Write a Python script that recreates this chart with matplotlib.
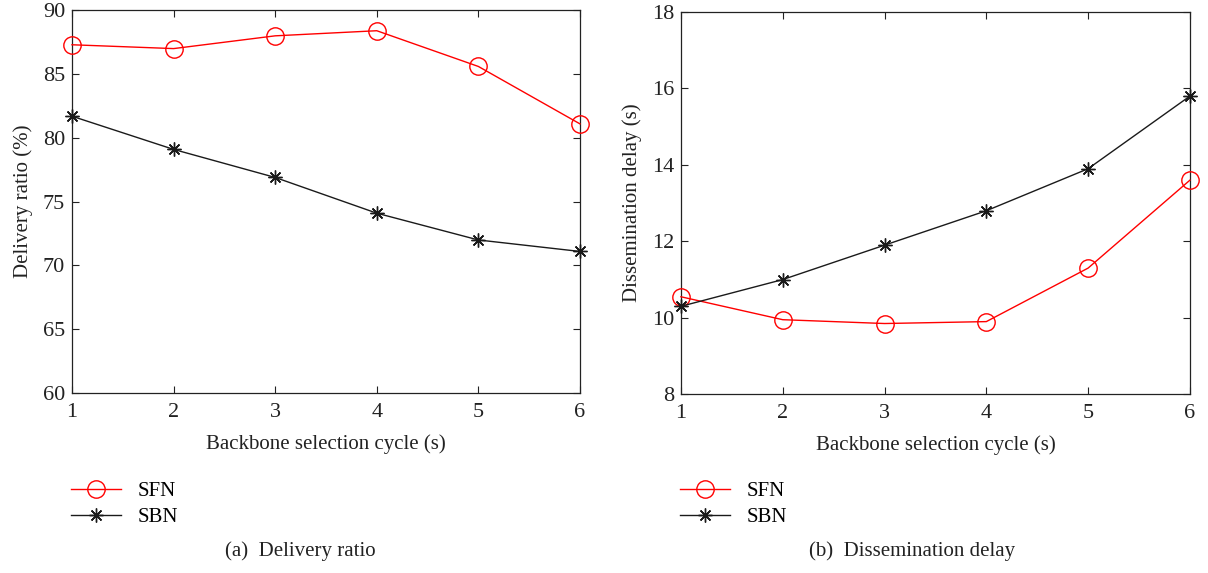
import matplotlib
matplotlib.use('Agg')
import matplotlib.pyplot as plt

plt.rcParams['font.family'] = ['Liberation Serif', 'DejaVu Serif']

# Data
cycles = [1, 2, 3, 4, 5, 6]
ratio_sfn = [87.3, 87.0, 88.0, 88.4, 85.6, 81.1]
ratio_sbn = [81.7, 79.1, 76.9, 74.1, 72.0, 71.1]
delay_sfn = [10.55, 9.95, 9.85, 9.9, 11.3, 13.6]
delay_sbn = [10.3, 11.0, 11.9, 12.8, 13.9, 15.8]

series_names = ['SFN', 'SBN']
xlabel = 'Backbone selection cycle (s)'

fig = plt.figure(figsize=(12.08, 5.73), dpi=100)
ax1 = fig.add_axes([0.0596, 0.314, 0.4205, 0.668])
ax2 = fig.add_axes([0.5637, 0.312, 0.4213, 0.667])

sfn_style = dict(color='#ff0000', lw=1.0, marker='o', ms=12.5, mfc='none', mec='#ff0000', mew=1.0)
sbn_style = dict(color='#1a1a1a', lw=1.0, marker=(8, 2, 0), ms=10, mec='#1a1a1a', mew=1.0)

panels = [
    (ax1, ratio_sfn, ratio_sbn, (60, 90), range(60, 91, 5), 'Delivery ratio (%)',
     '(a)  Delivery ratio', 0.052, 0.249),
    (ax2, delay_sfn, delay_sbn, (8, 18), range(8, 19, 2), 'Dissemination delay (s)',
     '(b)  Dissemination delay', 0.556, 0.755),
]

for ax, sfn, sbn, ylim, yticks, ylabel, caption, leg_x, cap_x in panels:
    l1, = ax.plot(cycles, sfn, label=series_names[0], clip_on=False, zorder=3, **sfn_style)
    l2, = ax.plot(cycles, sbn, label=series_names[1], clip_on=False, zorder=3, **sbn_style)
    ax.set_xlim(1, 6)
    ax.set_ylim(*ylim)
    ax.set_xticks(cycles)
    ax.set_yticks(list(yticks))
    ax.tick_params(direction='in', top=True, right=True, length=5, width=0.8,
                   labelsize=16, colors='#222222')
    ax.tick_params(axis='x', pad=7)
    ax.tick_params(axis='y', pad=5)
    for s in ax.spines.values():
        s.set_linewidth(0.9)
        s.set_color('#222222')
    ax.set_xlabel(xlabel, fontsize=15, labelpad=9, color='#222222')
    ax.set_ylabel(ylabel, fontsize=15, labelpad=7, color='#222222')
    ax.legend(handles=[l1, l2], loc='upper left', frameon=False, fontsize=15,
              bbox_to_anchor=(leg_x, 0.174),
              bbox_transform=fig.transFigure, handlelength=2.4, handletextpad=0.8,
              labelspacing=0.32, borderaxespad=0)
    fig.text(cap_x, 0.038, caption, ha='center', va='center',
             fontsize=15, color='#222222')

fig.savefig('out.png', dpi=100)
